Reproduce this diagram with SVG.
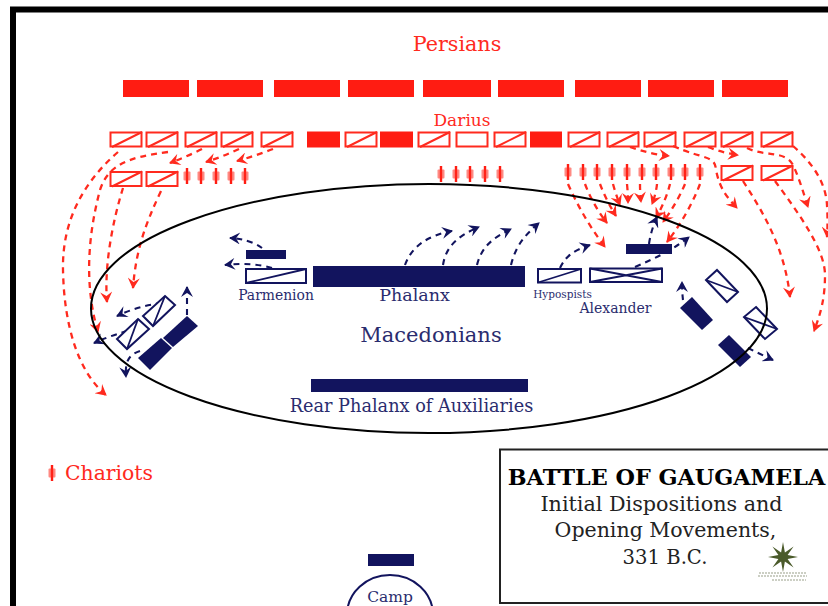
<svg xmlns="http://www.w3.org/2000/svg" width="828" height="606" viewBox="0 0 828 606">
<style>
text{font-family:"DejaVu Serif",serif;text-anchor:middle}
.r{fill:#ff2a1e}
.n{fill:#2a2c6e}
.rf{fill:#ff1c12}
.ro{fill:#fff;stroke:#ff2a1e;stroke-width:2}
.rs{fill:none;stroke:#ff2a1e;stroke-width:2}
.nf{fill:#12145e}
.no{fill:#fff;stroke:#12145e;stroke-width:2}
.ns{fill:none;stroke:#12145e;stroke-width:1.8}
.ra{fill:none;stroke:#ff2a1e;stroke-width:2.300;stroke-dasharray:6 5;marker-end:url(#ar)}
.na{fill:none;stroke:#12145e;stroke-width:2.100;stroke-dasharray:6 5;marker-end:url(#an)}
</style>
<defs>
<marker id="ar" viewBox="-11 -6 13 12" refX="0" refY="0" markerWidth="13" markerHeight="12" markerUnits="userSpaceOnUse" orient="auto"><path d="M1 0L-10 -6L-6 0L-10 6Z" fill="#ff2a1e"/></marker>
<marker id="an" viewBox="-11 -6 13 12" refX="0" refY="0" markerWidth="13" markerHeight="12" markerUnits="userSpaceOnUse" orient="auto"><path d="M1 0L-10 -6L-6 0L-10 6Z" fill="#12145e"/></marker>
<g id="ch"><rect x="-1.200" y="-8" width="2.400" height="16" class="rf"/><rect x="-3.500" y="-4.500" width="7" height="9" rx="1" fill="#ff2a1e" opacity=".55"/></g>
<path id="sl" d="M2 15L32 0" class="rs"/>
</defs>
<rect width="828" height="606" fill="#fff"/>
<path d="M13 606V9.500H828" fill="none" stroke="#000" stroke-width="6"/>

<g id="persian-front">
<rect class="rf" x="123" y="80" width="66" height="17"/><rect class="rf" x="197" y="80" width="66" height="17"/><rect class="rf" x="274" y="80" width="66" height="17"/><rect class="rf" x="348" y="80" width="66" height="17"/><rect class="rf" x="423" y="80" width="68" height="17"/><rect class="rf" x="498" y="80" width="66" height="17"/><rect class="rf" x="575" y="80" width="66" height="17"/><rect class="rf" x="648" y="80" width="66" height="17"/><rect class="rf" x="722" y="80" width="66" height="17"/>
</g>
<g id="persian-second">
<rect class="ro" x="110.500" y="132.500" width="31" height="14"/><use href="#sl" x="110" y="132"/>
<rect class="ro" x="146.500" y="132.500" width="31" height="14"/><use href="#sl" x="146" y="132"/>
<rect class="ro" x="185.500" y="132.500" width="31" height="14"/><use href="#sl" x="185" y="132"/>
<rect class="ro" x="221.500" y="132.500" width="31" height="14"/><use href="#sl" x="221" y="132"/>
<rect class="ro" x="261.500" y="132.500" width="31" height="14"/><use href="#sl" x="261" y="132"/>
<rect class="rf" x="307" y="131.500" width="33" height="16"/>
<rect class="ro" x="345.500" y="132.500" width="31" height="14"/><use href="#sl" x="345" y="132"/>
<rect class="rf" x="380" y="131.500" width="33" height="16"/>
<rect class="ro" x="418.500" y="132.500" width="31" height="14"/><use href="#sl" x="418" y="132"/>
<rect class="ro" x="456.500" y="132.500" width="31" height="14"/>
<rect class="ro" x="494.500" y="132.500" width="31" height="14"/><use href="#sl" x="494" y="132"/>
<rect class="rf" x="530" y="131.500" width="32" height="16"/>
<rect class="ro" x="568.500" y="132.500" width="31" height="14"/><use href="#sl" x="568" y="132"/>
<rect class="ro" x="607.500" y="132.500" width="31" height="14"/><use href="#sl" x="607" y="132"/>
<rect class="ro" x="644.500" y="132.500" width="31" height="14"/><use href="#sl" x="644" y="132"/>
<rect class="ro" x="684.500" y="132.500" width="31" height="14"/><use href="#sl" x="684" y="132"/>
<rect class="ro" x="721.500" y="132.500" width="31" height="14"/><use href="#sl" x="721" y="132"/>
<rect class="ro" x="761.500" y="132.500" width="31" height="14"/><use href="#sl" x="761" y="132"/>
</g>
<g id="persian-third">
<rect class="ro" x="110.500" y="172" width="31" height="14"/><use href="#sl" x="110" y="171.500"/>
<rect class="ro" x="146.500" y="172" width="31" height="14"/><use href="#sl" x="146" y="171.500"/>
<rect class="ro" x="721.500" y="166" width="31" height="14"/><use href="#sl" x="721" y="165.500"/>
<rect class="ro" x="761.500" y="166" width="31" height="14"/><use href="#sl" x="761" y="165.500"/>
</g>
<g id="chariots">
<use href="#ch" x="187" y="176"/><use href="#ch" x="201" y="176"/><use href="#ch" x="216" y="176"/><use href="#ch" x="231" y="176"/><use href="#ch" x="245" y="176"/>
<use href="#ch" x="441" y="174"/><use href="#ch" x="456" y="174"/><use href="#ch" x="470" y="174"/><use href="#ch" x="485" y="174"/><use href="#ch" x="500" y="174"/>
<use href="#ch" x="568" y="172"/><use href="#ch" x="583" y="172"/><use href="#ch" x="597" y="172"/><use href="#ch" x="612" y="172"/><use href="#ch" x="627" y="172"/><use href="#ch" x="642" y="172"/><use href="#ch" x="656" y="172"/><use href="#ch" x="671" y="172"/><use href="#ch" x="685" y="172"/><use href="#ch" x="700" y="172"/>
<use href="#ch" x="52" y="473"/>
</g>

<g id="connectors">
<path class="ra" d="M118 152C80 185 62 225 63 270C64 325 78 372 106 395"/>
<path class="ra" d="M168 152C128 157 108 165 100 190C88 235 84 285 98 332"/>
<path class="ra" d="M123 188C113 220 104 265 107 302"/>
<path class="ra" d="M161 191C145 225 136 250 133 288"/>
<path class="ra" d="M202 149Q186 157 170 163"/>
<path class="ra" d="M239 149Q222 157 206 162"/>
<path class="ra" d="M273 149Q255 156 237 161"/>
<path class="ra" d="M630 147Q650 154 669 156"/>
<path class="ra" d="M673 146C705 160 715 155 716 170C720 190 728 198 737 208"/>
<path class="ra" d="M708 147Q723 153 738 155"/>
<path class="ra" d="M747 148C765 157 785 150 793 165C800 180 804 195 808 207"/>
<path class="ra" d="M793 146C815 165 826 185 827 205Q828 222 827 237"/>
<path class="ra" d="M743 181C765 215 785 250 790 297"/>
<path class="ra" d="M775 181C800 215 825 250 825 275C825 300 820 315 814 331"/>
<path class="ra" d="M568 184Q583 218 605 247"/>
<path class="ra" d="M585 184Q593 205 607 223"/>
<path class="ra" d="M600 184Q606 200 616 216"/>
<path class="ra" d="M613 184Q616 195 620 205"/>
<path class="ra" d="M627 184Q628 194 628 203"/>
<path class="ra" d="M640 184Q640 193 641 202"/>
<path class="ra" d="M657 184Q656 194 652 204"/>
<path class="ra" d="M670 184Q666 200 656 218"/>
<path class="ra" d="M685 184Q677 203 663 222"/>
<path class="ra" d="M700 184Q688 215 667 242"/>
<path class="na" d="M262 248Q250 239 230 238"/>
<path class="na" d="M272 268Q252 262 225 265"/>
<path class="na" d="M405 265C412 245 430 235 452 231"/>
<path class="na" d="M443 265C446 245 460 235 479 227"/>
<path class="na" d="M477 265C482 245 495 237 511 229"/>
<path class="na" d="M511 265C516 245 525 235 539 223"/>
<path class="na" d="M560 268C566 255 575 250 590 245"/>
<path class="na" d="M649 244Q651 230 657 217"/>
<path class="na" d="M635 267C655 258 670 252 689 237"/>
<path class="na" d="M187 315V287"/>
<path class="na" d="M162 303Q138 306 117 316"/>
<path class="na" d="M138 328Q114 334 94 343"/>
<path class="na" d="M140 351C128 355 125 362 126 377"/>
<path class="na" d="M683 300Q682 292 682 282"/>
<path class="na" d="M748 348Q760 354 773 360"/>
</g>

<g id="macedonians">
<rect class="nf" x="246" y="250" width="40" height="9"/>
<rect class="no" x="246" y="269" width="60" height="14"/><path class="ns" d="M246 283L306 269"/>
<rect class="nf" x="313" y="266" width="212" height="21"/>
<rect class="no" x="538" y="269" width="43" height="13.500"/><path class="ns" d="M538 282.500L581 269"/>
<rect class="no" x="590" y="268.500" width="72" height="13.500"/><path class="ns" d="M590 282L662 268.500M590 268.500L662 282"/>
<rect class="nf" x="626" y="244" width="46" height="10"/>
<rect class="nf" x="311" y="379" width="217" height="13"/>
<path class="nf" d="M187 316L198 326L173 347L163 338Z"/>
<path class="nf" d="M161 338L172 348L150 370L138 358Z"/>
<path class="no" d="M165 296L175 305L153 326L143 316Z"/><path class="ns" d="M153 326L165 296"/>
<path class="no" d="M138 319L149 329L127 349L117 339Z"/><path class="ns" d="M127 349L138 319"/>
<path class="nf" d="M692 297L713 320L702 330L680 308Z"/>
<path class="nf" d="M729 335L751 357L740 367L718 345Z"/>
<path class="no" d="M717 270L738 292L727 302L706 280Z"/><path class="ns" d="M706 280L738 292"/>
<path class="no" d="M756 307L777 329L765 339L744 317Z"/><path class="ns" d="M744 317L777 329"/>
</g>

<ellipse id="ellipse" cx="429" cy="308.500" rx="338" ry="124.500" fill="none" stroke="#000" stroke-width="2"/>

<g id="camp">
<rect class="nf" x="368" y="554" width="46" height="12"/>
<ellipse cx="390" cy="615" rx="43" ry="40" fill="#fff" stroke="#12145e" stroke-width="2"/>
<text class="n" x="390" y="602" font-size="15.500">Camp</text>
</g>

<g id="labels">
<text class="r" x="457" y="51" font-size="20.700">Persians</text>
<text class="r" x="462" y="126" font-size="17">Darius</text>
<text class="n" x="276" y="300" font-size="13.900">Parmenion</text>
<text class="n" x="414.500" y="301" font-size="17.500">Phalanx</text>
<text class="n" x="431" y="342" font-size="21">Macedonians</text>
<text class="n" x="562.500" y="298" font-size="10.500">Hypospists</text>
<text class="n" x="615.500" y="313" font-size="14">Alexander</text>
<text class="n" x="411.500" y="412" font-size="17.700">Rear Phalanx of Auxiliaries</text>
<text class="r" x="109" y="480" font-size="20.400">Chariots</text>
</g>

<g id="title">
<rect x="500" y="449.500" width="340" height="153.500" fill="#fff" stroke="#222" stroke-width="2"/>
<text x="666.500" y="485" font-size="22.300" font-weight="bold" fill="#000">BATTLE OF GAUGAMELA</text>
<text x="661.500" y="511" font-size="20.700" fill="#222">Initial Dispositions and</text>
<text x="665.500" y="537" font-size="20.500" fill="#222">Opening Movements,</text>
<text x="665" y="564" font-size="19.600" fill="#222">331 B.C.</text>
<path d="M783 542L784.900 552.400L793.600 546.400L787.600 555.100L798 557L787.600 558.900L793.600 567.600L784.900 561.600L783 572L781.100 561.600L772.400 567.600L778.400 558.900L768 557L778.400 555.100L772.400 546.400L781.100 552.400Z" fill="#4a5a2a"/>
<path d="M759 573H807M758 576H807M772 580H806" stroke="#99a08a" stroke-width="1.200" stroke-dasharray="2 1" fill="none"/>
</g>
</svg>
